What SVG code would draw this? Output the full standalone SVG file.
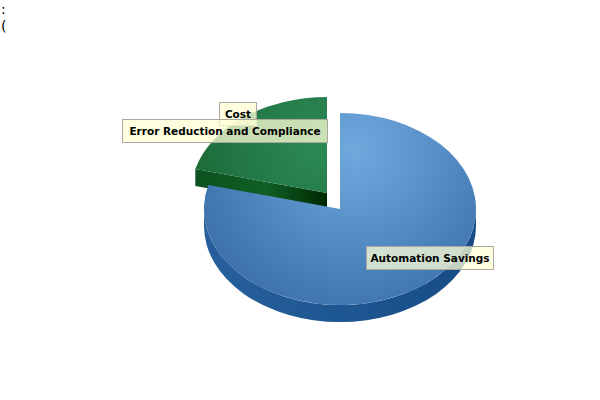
<svg xmlns="http://www.w3.org/2000/svg" width="600" height="400" viewBox="0 0 600 400">
<defs>
<radialGradient id="blueTop" gradientUnits="userSpaceOnUse" cx="355" cy="150" r="190">
<stop offset="0" stop-color="#70a9de"/>
<stop offset="0.6" stop-color="#4d84be"/>
<stop offset="1" stop-color="#386ca6"/>
</radialGradient>
<linearGradient id="blueSide" gradientUnits="userSpaceOnUse" x1="204" y1="0" x2="476" y2="0">
<stop offset="0" stop-color="#275f9c"/>
<stop offset="0.5" stop-color="#1d5791"/>
<stop offset="1" stop-color="#174b86"/>
</linearGradient>
<radialGradient id="greenTop" gradientUnits="userSpaceOnUse" cx="320" cy="145" r="150">
<stop offset="0" stop-color="#2c8a56"/>
<stop offset="0.6" stop-color="#217543"/>
<stop offset="1" stop-color="#186530"/>
</radialGradient>
<linearGradient id="greenSide" gradientUnits="userSpaceOnUse" x1="195" y1="0" x2="327" y2="0">
<stop offset="0" stop-color="#0c521e"/>
<stop offset="0.55" stop-color="#0f5f26"/>
<stop offset="1" stop-color="#002800"/>
</linearGradient>
<style>
.lbl rect{fill:#ffffd6;fill-opacity:0.75;stroke:#a8a8a0;stroke-width:1}
.lbl text{font-family:"DejaVu Sans","Liberation Sans",sans-serif;font-size:10.5px;font-weight:bold;fill:#000;text-anchor:middle}
.corner{font-family:"DejaVu Sans","Liberation Sans",sans-serif;font-size:14px;fill:#000}
</style>
</defs>
<rect width="600" height="400" fill="#fff"/>
<text class="corner" x="1" y="14">:</text>
<text class="corner" x="1" y="31">(</text>
<g id="slice-error-reduction">
<path d="M327,193 L195.3,169 L195.3,186 L327,210 Z" fill="url(#greenSide)"/>
<path d="M327,193 L195.3,169 A136,96 0 0,1 327,97 Z" fill="url(#greenTop)"/>
</g>
<g id="slice-automation-savings">
<path d="M476,209 A136,96 0 0,1 204,209 L204,226 A136,96 0 0,0 476,226 Z" fill="url(#blueSide)"/>
<path d="M340,209 L340,113 A136,96 0 1,1 208.3,185 Z" fill="url(#blueTop)"/>
</g>
<g id="connectors"></g>
<g id="label-cost" class="lbl">
<rect x="219.5" y="102.5" width="37" height="23"/>
<text x="238" y="118">Cost</text>
</g>
<g id="label-error" class="lbl">
<rect x="122.5" y="119.5" width="205" height="23"/>
<text x="225" y="135">Error Reduction and Compliance</text>
</g>
<g id="label-automation" class="lbl">
<rect x="366.5" y="246.5" width="127" height="23"/>
<text x="430" y="262">Automation Savings</text>
</g>
</svg>
